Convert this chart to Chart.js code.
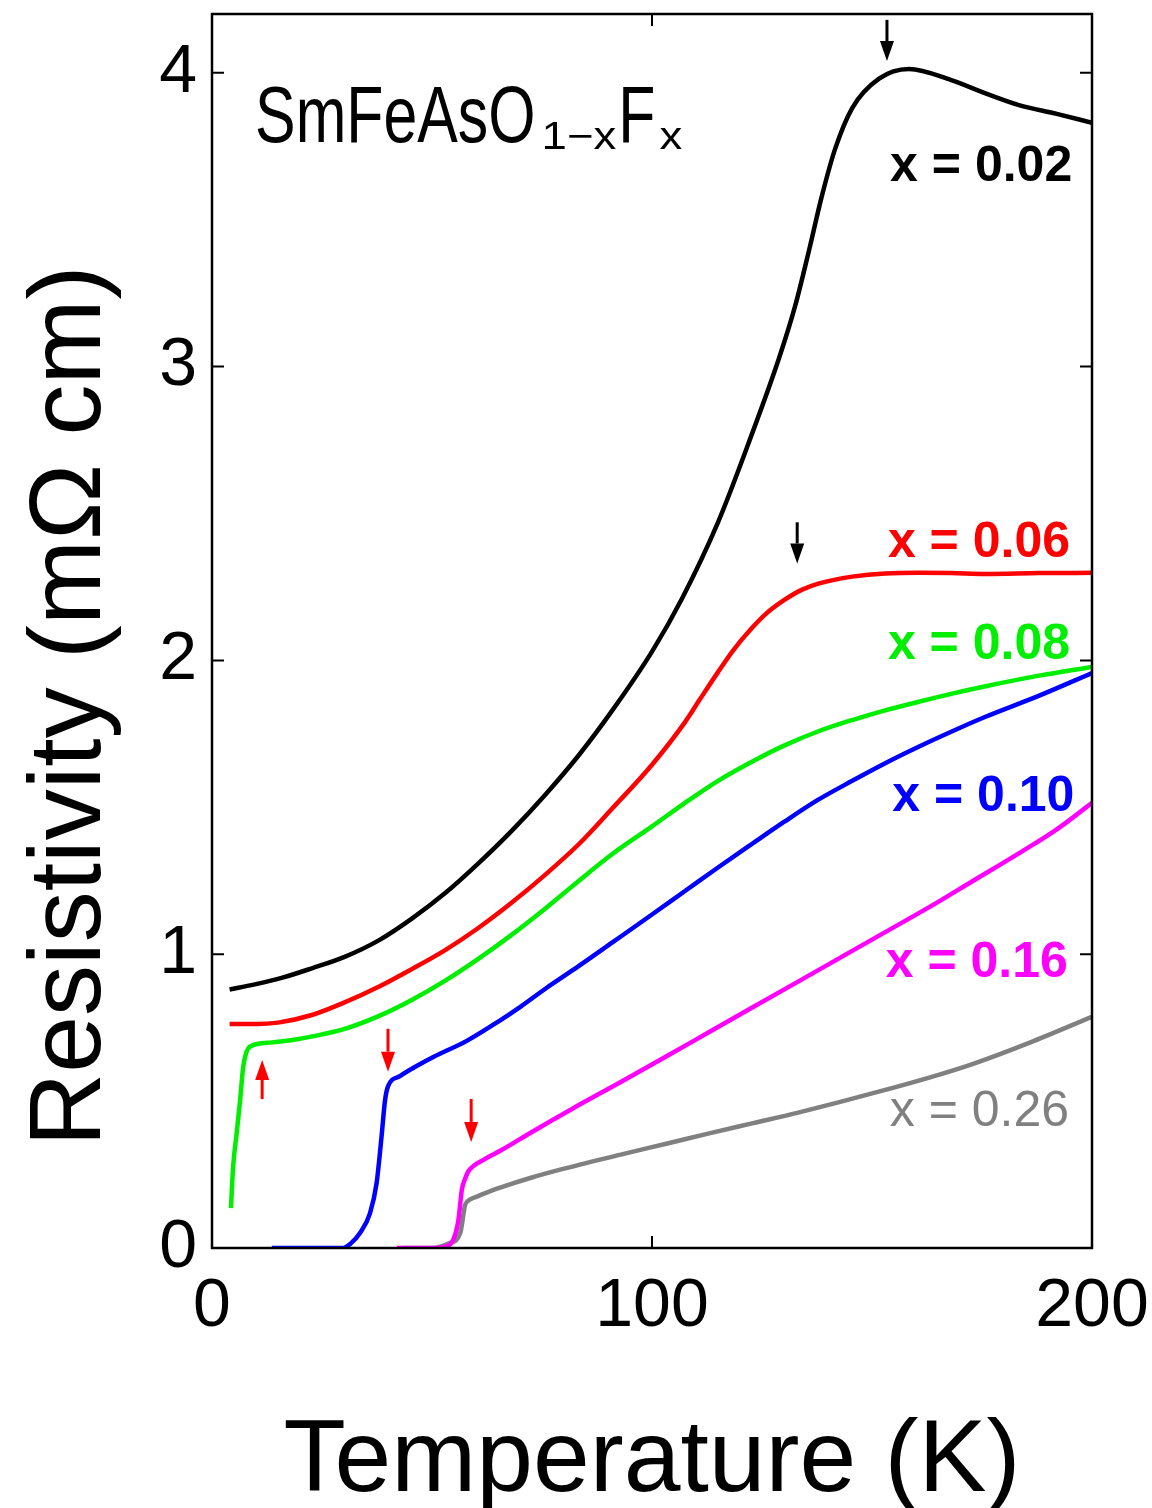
<!DOCTYPE html>
<html>
<head>
<meta charset="utf-8">
<script src="https://cdn.jsdelivr.net/npm/chart.js@4.4.0/dist/chart.umd.min.js"></script>
<style>
  html, body { margin: 0; padding: 0; background: #fff; }
  #wrap { width: 1152px; height: 1508px; position: relative; }
</style>
</head>
<body>
<div id="wrap"><canvas id="chart"></canvas></div>
<script>
// resistivity curves, T in K, rho in mOhm cm
const tX002 = [4, 10, 16, 22.7, 30, 38, 45.5, 53, 60.6, 68, 75.7, 83.4, 90.9, 100, 106.8, 115, 122.7, 128.9, 132.6, 135.6, 138.6, 141.6, 145.5, 151.6, 158.4, 168, 175.8, 183.4, 192, 200];
const rX002 = [0.88, 0.898, 0.92, 0.952, 0.99, 1.048, 1.122, 1.208, 1.31, 1.418, 1.542, 1.678, 1.828, 2.03, 2.21, 2.47, 2.77, 3.03, 3.21, 3.39, 3.58, 3.74, 3.88, 3.98, 4.013, 3.975, 3.93, 3.89, 3.86, 3.83];

const tX006 = [4, 10, 15, 22.7, 30, 38, 45.5, 53, 60.6, 68, 75.7, 83.4, 90.9, 100, 107.5, 111, 115, 118.5, 122.7, 126, 130, 134, 138, 145.5, 153, 160.6, 168, 175.8, 188, 200];
const rX006 = [0.762, 0.762, 0.767, 0.793, 0.835, 0.89, 0.95, 1.014, 1.09, 1.174, 1.27, 1.375, 1.495, 1.645, 1.79, 1.87, 1.96, 2.035, 2.11, 2.16, 2.205, 2.24, 2.262, 2.285, 2.296, 2.298, 2.297, 2.294, 2.297, 2.298];

const tX008 = [4.3, 4.8, 5.6, 6.4, 7.1, 8.6, 13.2, 20, 22.7, 30, 38, 45.5, 53, 60.6, 68, 75.7, 83.4, 90.9, 100, 107.5, 115, 122.7, 130, 137.7, 145.5, 153, 160.6, 168, 175.8, 188, 200];
const rX008 = [0.136, 0.277, 0.39, 0.505, 0.617, 0.685, 0.699, 0.712, 0.72, 0.745, 0.79, 0.845, 0.91, 0.985, 1.065, 1.155, 1.25, 1.34, 1.435, 1.515, 1.59, 1.655, 1.71, 1.758, 1.797, 1.83, 1.859, 1.886, 1.912, 1.948, 1.978];

const tX010 = [13.6, 20, 29.8, 31.5, 33.6, 35.9, 37.4, 38.6, 39.3, 40, 42.7, 46, 50.3, 57.9, 65.5, 70, 76, 83.4, 91, 100, 107.5, 115, 122.7, 130, 137.7, 145.5, 153, 160.6, 168, 175.8, 188, 200];
const rX010 = [0, 0, 0, 0.015, 0.05, 0.118, 0.22, 0.39, 0.5, 0.55, 0.585, 0.615, 0.65, 0.705, 0.775, 0.82, 0.885, 0.96, 1.04, 1.135, 1.215, 1.295, 1.375, 1.45, 1.525, 1.59, 1.65, 1.706, 1.757, 1.808, 1.88, 1.957];

const tX016 = [42, 50, 53, 54.8, 56, 56.8, 57.5, 58.3, 59.5, 61.7, 66, 72.7, 82, 92.9, 103, 113, 123, 133, 143, 153, 163, 173, 183, 192, 200];
const rX016 = [0, 0, 0.005, 0.027, 0.095, 0.2, 0.235, 0.262, 0.28, 0.3, 0.335, 0.395, 0.475, 0.565, 0.65, 0.735, 0.82, 0.905, 0.99, 1.075, 1.16, 1.25, 1.34, 1.425, 1.515];

const tX026 = [43, 50, 54, 56.4, 57.5, 58, 60.2, 63, 67, 72.7, 80, 92.9, 103, 113, 123, 133, 143, 153, 163, 173, 186, 200];
const rX026 = [0, 0, 0.017, 0.05, 0.145, 0.158, 0.175, 0.192, 0.213, 0.24, 0.27, 0.318, 0.354, 0.39, 0.425, 0.46, 0.498, 0.538, 0.58, 0.627, 0.7, 0.787];

const seriesNames = ['x = 0.02', 'x = 0.06', 'x = 0.08', 'x = 0.10', 'x = 0.16', 'x = 0.26'];
const seriesColors = ['#000000', '#ff0000', '#00ee00', '#0000ff', '#ff00ff', '#808080'];
const seriesT = [tX002, tX006, tX008, tX010, tX016, tX026];
const seriesR = [rX002, rX006, rX008, rX010, rX016, rX026];

// label anchors (right edge T, centre rho)
const labelT = [195.5, 195, 195, 196, 194.5, 194.8];
const labelR = [3.677, 2.40, 2.053, 1.535, 0.970, 0.463];
const labelBold = [true, true, true, true, true, false];

// arrows: T, tail rho, tip rho, colour
const arrowT = [153.4, 133, 11.4, 40, 58.9];
const arrowFrom = [4.18, 2.47, 0.507, 0.746, 0.507];
const arrowTo = [4.04, 2.33, 0.64, 0.60, 0.361];
const arrowColor = ['#000000', '#000000', '#ff0000', '#ff0000', '#ff0000'];

const xTicks = [0, 100, 200];
const yTicks = [0, 1, 2, 3, 4];

const FONT = '"Liberation Sans", Arial, Helvetica, sans-serif';

const datasets = seriesNames.map((name, i) => ({
  label: name,
  data: seriesT[i].map((t, j) => ({ x: t, y: seriesR[i][j] })),
  borderColor: seriesColors[i],
  backgroundColor: seriesColors[i],
  borderWidth: 4.5,
  pointRadius: 0,
  cubicInterpolationMode: 'monotone',
  fill: false
}));

const noPad = s => {
  s.paddingLeft = 0; s.paddingRight = 0;
  s.paddingTop = 0; s.paddingBottom = 0;
};

const decor = {
  id: 'decor',
  afterDraw(chart) {
    const ctx = chart.ctx;
    const xs = chart.scales.x, ys = chart.scales.y;
    const a = chart.chartArea;
    ctx.save();

    // frame
    ctx.strokeStyle = '#000';
    ctx.lineWidth = 2.5;
    ctx.strokeRect(a.left, a.top, a.right - a.left, a.bottom - a.top);

    // inward ticks
    const tl = 12;
    ctx.lineWidth = 2;
    ctx.beginPath();
    xTicks.forEach(v => {
      const px = xs.getPixelForValue(v);
      ctx.moveTo(px, a.bottom); ctx.lineTo(px, a.bottom - tl);
      ctx.moveTo(px, a.top); ctx.lineTo(px, a.top + tl);
    });
    yTicks.forEach(v => {
      const py = ys.getPixelForValue(v);
      ctx.moveTo(a.left, py); ctx.lineTo(a.left + tl, py);
      ctx.moveTo(a.right, py); ctx.lineTo(a.right - tl, py);
    });
    ctx.stroke();

    // arrows
    arrowT.forEach((t, i) => {
      const px = xs.getPixelForValue(t);
      const y0 = ys.getPixelForValue(arrowFrom[i]);
      const y1 = ys.getPixelForValue(arrowTo[i]);
      const dir = y1 > y0 ? 1 : -1;
      const head = 20;
      ctx.strokeStyle = arrowColor[i];
      ctx.fillStyle = arrowColor[i];
      ctx.lineWidth = 3;
      ctx.beginPath();
      ctx.moveTo(px, y0);
      ctx.lineTo(px, y1 - dir * head);
      ctx.stroke();
      ctx.beginPath();
      ctx.moveTo(px, y1);
      ctx.lineTo(px - 7, y1 - dir * head);
      ctx.lineTo(px + 7, y1 - dir * head);
      ctx.closePath();
      ctx.fill();
    });

    // series labels
    ctx.textAlign = 'right';
    ctx.textBaseline = 'middle';
    seriesNames.forEach((name, i) => {
      ctx.font = (labelBold[i] ? 'bold ' : '') + '50px ' + FONT;
      ctx.fillStyle = seriesColors[i];
      ctx.fillText(name, xs.getPixelForValue(labelT[i]), ys.getPixelForValue(labelR[i]));
    });

    // compound name
    ctx.fillStyle = '#000';
    ctx.textAlign = 'left';
    ctx.textBaseline = 'alphabetic';
    let tx = xs.getPixelForValue(9.8);
    const base = ys.getPixelForValue(3.765);
    const parts = [
      ['SmFeAsO', 80, 0.76, 0, 6],
      ['1\u2212x', 38, 1.2, 7, 2],
      ['F', 80, 0.76, 0, 4],
      ['x', 38, 1.2, 7, 0]
    ];
    parts.forEach(([txt, size, sx, dy, gap]) => {
      ctx.font = size + 'px ' + FONT;
      const w = ctx.measureText(txt).width * sx;
      ctx.save();
      ctx.translate(tx, base + dy);
      ctx.scale(sx, 1);
      ctx.fillText(txt, 0, 0);
      ctx.restore();
      tx += w + gap;
    });

    // axis titles
    ctx.font = '102px ' + FONT;
    ctx.textAlign = 'center';
    ctx.textBaseline = 'alphabetic';
    ctx.fillText('Temperature (K)', (a.left + a.right) / 2, 1491);
    ctx.save();
    ctx.translate(100, 706);
    ctx.rotate(-Math.PI / 2);
    ctx.fillText('Resistivity (m\u03A9 cm)', 0, 0);
    ctx.restore();

    ctx.restore();
  }
};

new Chart(document.getElementById('chart').getContext('2d'), {
  type: 'line',
  data: { datasets },
  options: {
    responsive: true,
    maintainAspectRatio: false,
    animation: false,
    layout: { padding: { top: 14, right: 60, left: 0, bottom: 0 } },
    plugins: { legend: { display: false }, tooltip: { enabled: false } },
    scales: {
      x: {
        type: 'linear',
        min: 0, max: 200,
        grid: { display: false, drawTicks: false },
        border: { display: false },
        ticks: {
          stepSize: 100,
          padding: 18,
          color: '#000',
          font: { family: FONT, size: 68 },
          maxRotation: 0
        },
        afterFit: s => { s.height = 260; noPad(s); }
      },
      y: {
        type: 'linear',
        min: 0, max: 4.2,
        grid: { display: false, drawTicks: false },
        border: { display: false },
        ticks: {
          stepSize: 1,
          includeBounds: false,
          padding: 15,
          color: '#000',
          font: { family: FONT, size: 68 },
          callback: v => Number.isInteger(v) ? String(v) : ''
        },
        afterFit: s => { s.width = 212; noPad(s); }
      }
    }
  },
  plugins: [decor]
});
</script>
</body>
</html>
